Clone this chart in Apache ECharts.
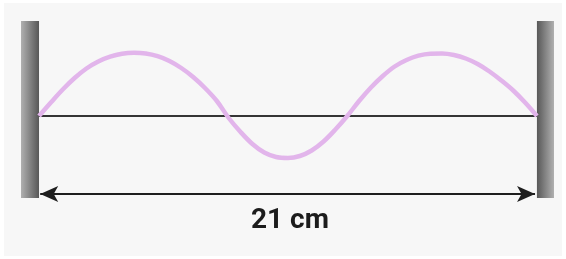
<!DOCTYPE html>
<html>
<head>
<meta charset="utf-8">
<script src="https://cdn.jsdelivr.net/npm/echarts@6/dist/echarts.min.js"></script>
<style>
  html, body { margin: 0; padding: 0; background: #ffffff; }
  #chart { width: 566px; height: 259px; }
</style>
</head>
<body>
<div id="chart"></div>
<script>
// positions along the string (cm) and displacement
var positionsCm = [0, 0.5, 1, 1.5, 2, 2.5, 3, 3.5, 4, 4.5, 5, 5.5, 6, 6.5, 7, 7.5,
  8, 8.5, 9, 9.5, 10, 10.5, 11, 11.5, 12, 12.5, 13, 13.5, 14, 14.5, 15, 15.5,
  16, 16.5, 17, 17.5, 18, 18.5, 19, 19.5, 20, 20.5, 21];
var displacement = [0, 13.5, 26.5, 38, 47.5, 54.5, 59.3, 62.2, 63.2, 62.5, 59.8, 55, 48, 39, 28, 15,
  -2, -16, -28, -36.5, -41, -42, -40, -34.5, -25.5, -13.5, 0, 15, 28.5, 40, 49.5, 56,
  60.3, 62.3, 62.5, 61, 57.5, 52, 44.5, 35.5, 25.5, 13.5, 0];
var stringLength = 21; // cm
var lengthLabel = "21 cm";

var chart = echarts.init(document.getElementById("chart"));

var wavePoints = positionsCm.map(function (x, i) { return [x, displacement[i]]; });

// 墙的渐变
function wallGradient(darkRight) {
  return new echarts.graphic.LinearGradient(0, 0, 1, 0, [
    { offset: 0, color: darkRight ? "#b0b0b0" : "#585858" },
    { offset: 1, color: darkRight ? "#585858" : "#b0b0b0" }
  ]);
}

var yMin = -82, yMax = 95;

chart.setOption({
  backgroundColor: "#ffffff",
  animation: false,
  graphic: [
    {
      type: "rect",
      left: 4, top: 3,
      shape: { width: 558, height: 253 },
      style: { fill: "#f7f7f7" },
      z: -10
    },
    {
      type: "text",
      x: 290, y: 221,
      style: {
        text: lengthLabel,
        font: "bold 28px Roboto",
        fill: "#1c1c1c",
        textAlign: "center",
        textVerticalAlign: "middle"
      }
    }
  ],
  grid: { left: 21, right: 12, top: 21, bottom: 61 },
  xAxis: {
    type: "value",
    min: -0.76,
    max: 21.72,
    show: false
  },
  yAxis: {
    type: "value",
    min: yMin,
    max: yMax,
    show: false
  },
  series: [
    {
      // 绳子（平衡位置）
      type: "line",
      data: [[0, 0], [stringLength, 0]],
      showSymbol: false,
      lineStyle: { color: "#353535", width: 2 },
      z: 2,
      markArea: {
        silent: true,
        data: [
          [{ coord: [-0.76, yMin], itemStyle: { color: wallGradient(true) } }, { coord: [0, yMax] }],
          [{ coord: [stringLength, yMin], itemStyle: { color: wallGradient(false) } }, { coord: [21.72, yMax] }]
        ]
      },
      markLine: {
        silent: true,
        symbol: ["arrow", "arrow"],
        symbolSize: [12, 18],
        label: { show: false },
        lineStyle: { color: "#1e1e1e", width: 2, type: "solid" },
        data: [[{ coord: [0.05, -78] }, { coord: [stringLength - 0.08, -78] }]]
      }
    },
    {
      // 驻波
      type: "line",
      data: wavePoints,
      smooth: 0.35,
      showSymbol: false,
      lineStyle: { color: "#e2b5eb", width: 4.5 },
      z: 3
    }
  ]
});
</script>
</body>
</html>
